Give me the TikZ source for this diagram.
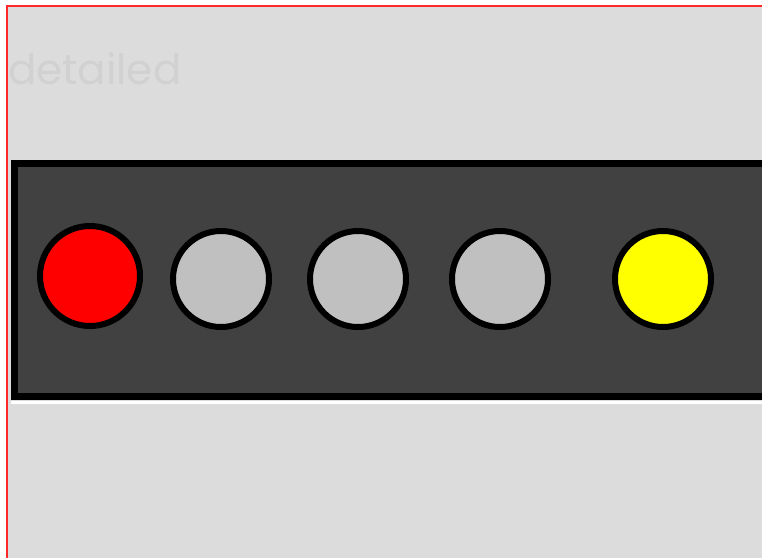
\documentclass[tikz,border=0pt]{standalone}
\usepackage{fontspec}
\usepackage{tikz}
\newfontfamily\labelfont{Poppins}
\definecolor{sig@bg}{RGB}{220, 220, 220}
\definecolor{sig@frame}{RGB}{255, 40, 40}
\definecolor{sig@panel}{RGB}{65, 65, 65}
\definecolor{sig@off}{RGB}{192, 192, 192}
\definecolor{sig@red}{RGB}{255, 0, 0}
\definecolor{sig@yellow}{RGB}{255, 255, 0}
\definecolor{sig@faint}{RGB}{209, 209, 209}

\begin{document}
\begin{tikzpicture}[
  x=1pt, y=-1pt,
  lamp/.style  = {circle, draw=black, line width=6pt, minimum size=96pt, inner sep=0pt},
  panel/.style = {rectangle, draw=black, fill=sig@panel, line width=7pt},
  faint/.style = {font=\labelfont\fontsize{42}{42}\selectfont, text=sig@faint,
                  anchor=base west, inner sep=0pt},
]
  \useasboundingbox (0,0) rectangle (762,558);
  \fill[white] (0,0) rectangle (762,558);
  \fill[sig@bg] (6.5,5.5) rectangle (762,558);
  \draw[sig@frame, line width=2pt] (6.5,558) -- (6.5,5.5) -- (762,5.5);

  \node[faint] (title) at (8,84) {detailed};

  % signal panel
  \draw[panel] (14,163) rectangle (780,396);
  \draw[white, line width=3pt] (11,402) -- (762,402);

  \node[lamp, fill=sig@red, minimum size=100pt] (red) at (90,276) {};
  \node[lamp, fill=sig@off]    (off1)   at (221,279) {};
  \node[lamp, fill=sig@off]    (off2)   at (358,279) {};
  \node[lamp, fill=sig@off]    (off3)   at (500,279) {};
  \node[lamp, fill=sig@yellow] (yellow) at (663,279) {};
\end{tikzpicture}
\end{document}
